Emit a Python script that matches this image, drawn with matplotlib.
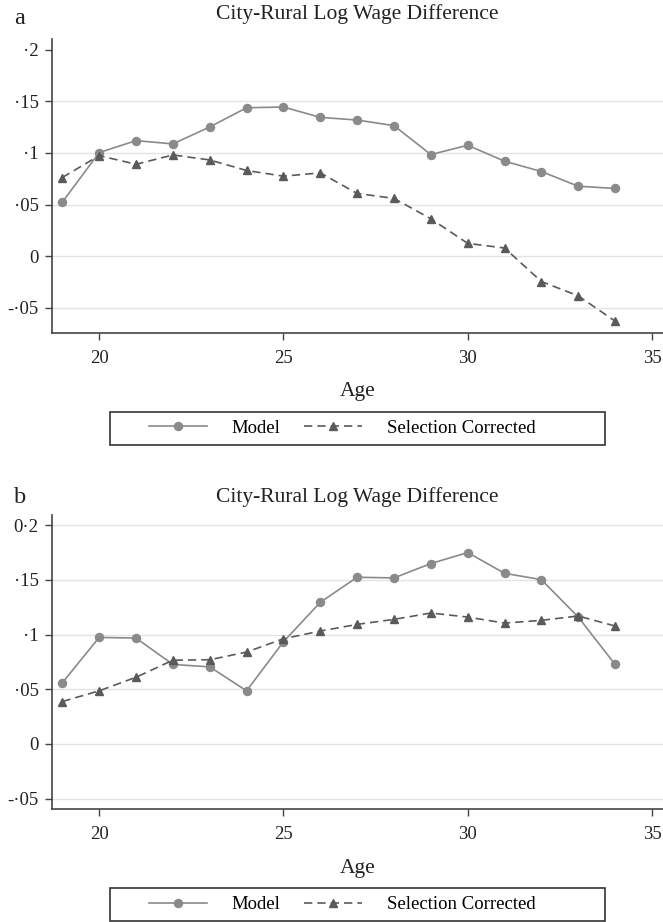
import numpy as np
from matplotlib import pyplot as plt
from matplotlib.patches import Rectangle
from matplotlib.ticker import FixedLocator, FixedFormatter

ages = np.arange(19, 35)

# panel a
model_a = [0.0524, 0.1003, 0.1119, 0.1087, 0.1251, 0.1437, 0.1444, 0.1344,
           0.1318, 0.1264, 0.0984, 0.1074, 0.0920, 0.0820, 0.0678, 0.0656]
selcor_a = [0.0762, 0.0974, 0.0890, 0.0980, 0.0932, 0.0830, 0.0775, 0.0807,
            0.0608, 0.0560, 0.0363, 0.0125, 0.0080, -0.0244, -0.0383, -0.0627]

# panel b
model_b = [0.0559, 0.0974, 0.0968, 0.0727, 0.0705, 0.0486, 0.0934, 0.1295,
           0.1524, 0.1518, 0.1649, 0.1750, 0.1560, 0.1502, 0.1160, 0.0727]
selcor_b = [0.0388, 0.0486, 0.0610, 0.0766, 0.0770, 0.0840, 0.0962, 0.1032,
            0.1093, 0.1139, 0.1197, 0.1160, 0.1105, 0.1130, 0.1170, 0.1078]

yticks = [-0.05, 0, 0.05, 0.1, 0.15, 0.2]
ylabels_a = ['-\u00b705', '0', '\u00b705', '\u00b71', '\u00b715', '\u00b72']
ylabels_b = ['-\u00b705', '0', '\u00b705', '\u00b71', '\u00b715', '0\u00b72']
xticks = [20, 25, 30, 35]

plt.rcParams['font.family'] = ['Liberation Serif', 'DejaVu Serif']

W, H = 663, 922
fig = plt.figure(figsize=(W / 100, H / 100), dpi=100)

MODEL_C = '#8a8a8a'
SEL_C = '#5a5a5a'
AXIS_C = '#444444'
TEXT_C = '#222222'


def panel(top, bottom, letter, model, selcor, ylim, ylabels, grid_top,
          title_base, letter_base, leg_top, leg_bot):
    ax = fig.add_axes([52 / W, 1 - bottom / H, (W - 52) / W, (bottom - top) / H])
    for v in yticks:
        if v == 0.2 and not grid_top:
            continue
        ax.axhline(v, color='#e3e3e3', lw=1.0, zorder=0)
    l1, = ax.plot(ages, model, '-', color=MODEL_C, lw=1.2, marker='o', ms=5.8,
                  mfc=MODEL_C, mec=MODEL_C, zorder=3)
    l2, = ax.plot(ages, selcor, '--', color=SEL_C, lw=1.2, dashes=(5, 3),
                  marker='^', ms=6.3, mfc=SEL_C, mec=SEL_C, zorder=4)
    ax.set_xlim(18.72, 35.3)
    ax.set_ylim(*ylim)
    ax.yaxis.set_major_locator(FixedLocator(yticks))
    ax.yaxis.set_major_formatter(FixedFormatter(ylabels))
    ax.set_xticks(xticks)
    for s in ['top', 'right']:
        ax.spines[s].set_visible(False)
    for s in ['left', 'bottom']:
        ax.spines[s].set_color(AXIS_C)
        ax.spines[s].set_linewidth(1.2)
    ax.tick_params(axis='both', direction='out', length=5.2, width=1.0,
                   color=AXIS_C, labelsize=13.5, labelcolor=TEXT_C)
    ax.tick_params(axis='y', pad=4.5)
    ax.tick_params(axis='x', pad=7)
    ax.set_xlabel('Age', fontsize=15.5, labelpad=11, color=TEXT_C)
    fig.text((52 + W) / 2 / W, 1 - title_base / H, 'City-Rural Log Wage Difference',
             ha='center', va='baseline', fontsize=15.5, color=TEXT_C)
    fig.text(14 / W, 1 - letter_base / H, letter, ha='left', va='baseline',
             fontsize=17.5, color=TEXT_C)

    # legend box drawn separately, legend entries centred inside it
    fig.patches.append(Rectangle((110 / W, 1 - leg_bot / H), 495 / W,
                                 (leg_bot - leg_top) / H, transform=fig.transFigure,
                                 fill=False, edgecolor='#333333', lw=1.2))
    fig.legend([l1, l2], ['Model', 'Selection Corrected'], ncol=2,
               loc='center', bbox_to_anchor=(342 / W, 1 - (leg_top + leg_bot) / 2 / H),
               fontsize=13.5, handlelength=3.1, columnspacing=1.3,
               handletextpad=1.3, borderaxespad=0, frameon=False, borderpad=0)
    return ax


panel(39.3, 333, 'a', model_a, selcor_a, (-0.0742, 0.2099), ylabels_a, False,
      19, 24, 412, 445)
panel(515, 809.3, 'b', model_b, selcor_b, (-0.0597, 0.2093), ylabels_b, True,
      502, 503, 888, 921)

fig.savefig('out.png', dpi=100)
